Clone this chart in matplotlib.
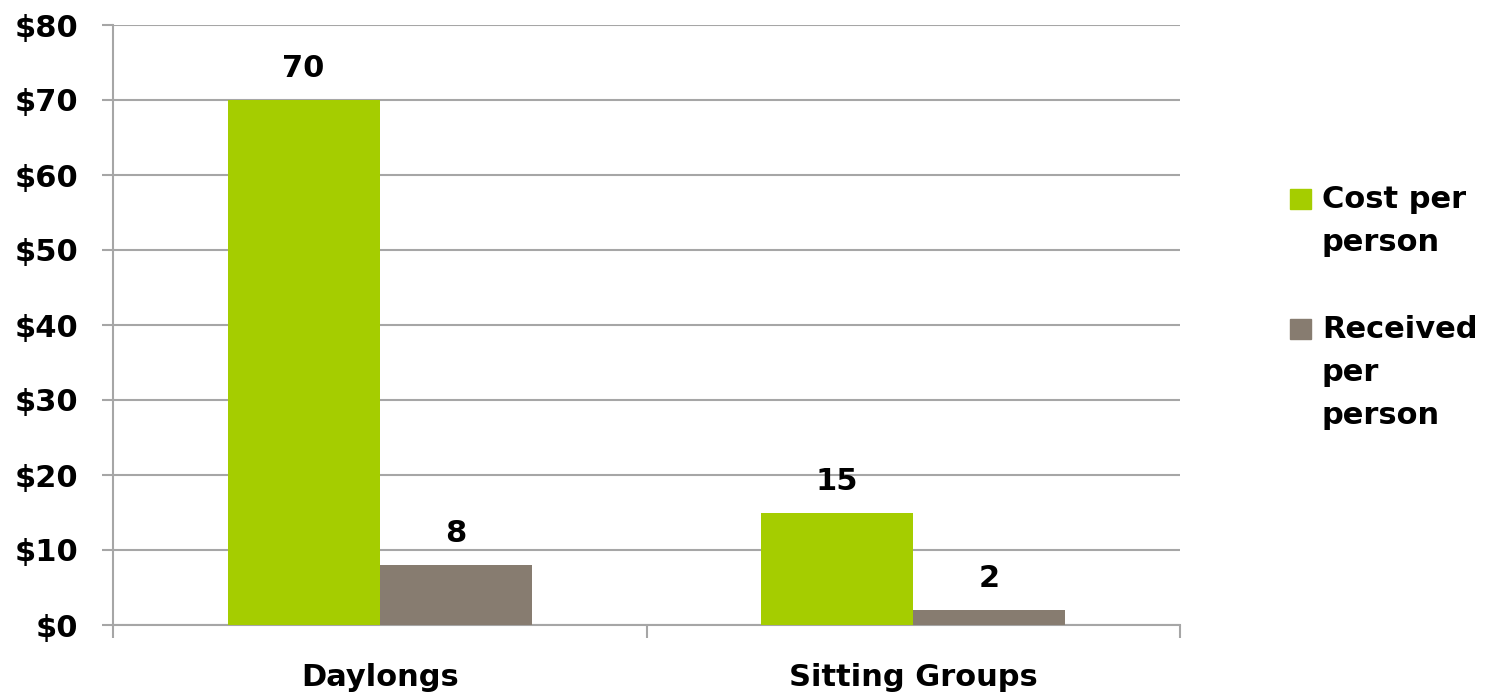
import numpy as np
import matplotlib
matplotlib.use("Agg")
import matplotlib.pyplot as plt
from matplotlib.patches import Rectangle

# data
categories = ["Daylongs", "Sitting Groups"]
series_names = ["Cost per\nperson", "Received\nper\nperson"]
cost = [70, 15]
received = [8, 2]
yticks = [0, 10, 20, 30, 40, 50, 60, 70, 80]

GREEN = "#A5CD00"
GRAY = "#877C70"
GRID = "#A6A6A6"
FS = 22

plt.rcParams["font.family"] = ["DejaVu Sans"]
plt.rcParams["font.weight"] = "bold"

fig = plt.figure(figsize=(15.01, 6.94), dpi=100)
ax = fig.add_axes([113 / 1501, 69 / 694, 1067 / 1501, 600 / 694])

x = np.arange(len(categories))
w = 152 / 533
b1 = ax.bar(x - w / 2, cost, w, color=GREEN, zorder=3)
b2 = ax.bar(x + w / 2, received, w, color=GRAY, zorder=3)

for bars, vals in [(b1, cost), (b2, received)]:
    for r, v in zip(bars, vals):
        ax.annotate(f"{v}", (r.get_x() + r.get_width() / 2, v),
                    xytext=(0, 12), textcoords="offset points",
                    ha="center", va="bottom", fontsize=FS, fontweight="bold")

ax.set_xlim(-0.5, len(categories) - 0.5)
ax.set_ylim(0, 80)
ax.set_yticks(yticks)
ax.set_yticklabels([f"${v}" for v in yticks])
ax.yaxis.grid(True, color=GRID, lw=1.5, zorder=0)
ax.set_axisbelow(True)

# category ticks at the boundaries, labels in the centers
ax.set_xticks(np.arange(len(categories) + 1) - 0.5)
ax.set_xticklabels([])
ax.set_xticks(x, minor=True)
ax.set_xticklabels(categories, minor=True)
ax.tick_params(axis="x", which="major", length=9, width=1.5, color=GRID)
ax.tick_params(axis="x", which="minor", length=0, pad=27, labelsize=FS)
ax.tick_params(axis="y", length=8, width=1.5, color=GRID, pad=17, labelsize=FS)
for lbl in ax.get_xticklabels(minor=True) + ax.get_yticklabels():
    lbl.set_fontweight("bold")

for s in ["top", "right"]:
    ax.spines[s].set_visible(False)
for s in ["left", "bottom"]:
    ax.spines[s].set_color(GRID)
    ax.spines[s].set_linewidth(1.5)

# legend drawn by hand so the swatch sits on the first text line
W, H = 1501, 694
for name, color, ytop in [(series_names[0], GREEN, 189), (series_names[1], GRAY, 319)]:
    fig.patches.append(Rectangle((1290 / W, 1 - (ytop + 20) / H), 21 / W, 20 / H,
                                 transform=fig.transFigure, color=color))
    fig.text(1322 / W, 1 - (ytop - 4) / H, name, ha="left", va="top",
             fontsize=FS, fontweight="bold", linespacing=1.6)

fig.savefig("out.png", dpi=100)
